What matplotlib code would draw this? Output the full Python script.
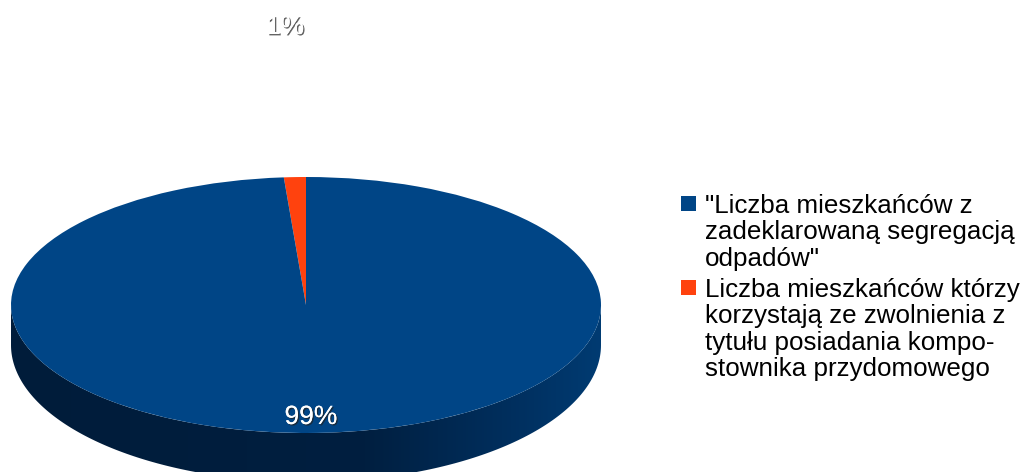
import numpy as np
import matplotlib
matplotlib.use("Agg")
import matplotlib.pyplot as plt
import matplotlib.patheffects as pe
from matplotlib.colors import LinearSegmentedColormap
from matplotlib.patches import Polygon, Rectangle

# Data
labels = ['"Liczba mieszkańców z\nzadeklarowaną segregacją\nodpadów"',
          "Liczba mieszkańców którzy\nkorzystają ze zwolnienia z\ntytułu posiadania kompo-\nstownika przydomowego"]
values = [98.8, 1.2]
colors = ["#004586", "#ff420e"]

W, H = 1027, 472
CX, CY, RX, RY, DEPTH, RY_LOW = 306, 305, 295, 128, 40, 137

plt.rcParams["font.family"] = ["Liberation Sans", "DejaVu Sans"]
fig = plt.figure(figsize=(W / 100, H / 100), dpi=100)
ax = fig.add_axes([0, 0, 1, 1])

# Top face, orange slice sits just left of 12 o'clock
ax.pie(values[::-1], colors=colors[::-1], startangle=90, radius=1,
       wedgeprops={"linewidth": 0, "zorder": 3})
ax.set_aspect("auto")
ax.axis("off")

# Side of the disc with dark gradient, lower rim a bit rounder than the top
t = np.linspace(np.pi, 2 * np.pi, 200)
x = np.cos(t)
y = np.sin(t)
d = DEPTH / RY
low = y * RY_LOW / RY - d
side = np.column_stack([np.r_[x, x[::-1]], np.r_[y, low[::-1]]])
clip = Polygon(side, closed=True, transform=ax.transData, facecolor="none", edgecolor="none")
ax.add_patch(clip)
cmap = LinearSegmentedColormap.from_list("side", [(0, "#001c3a"), (0.6, "#001f40"),
                                                  (0.85, "#002f5e"), (1, "#003b72")])
grad = ax.imshow(np.linspace(0, 1, 256)[None, :], cmap=cmap, aspect="auto", zorder=2,
                 extent=(-1, 1, low.min(), 0.1), origin="lower")
grad.set_clip_path(clip)
ax.set_xlim(-CX / RX, (W - CX) / RX)
ax.set_ylim(-(H - CY) / RY, CY / RY)

# Percent labels
shadow = [pe.withSimplePatchShadow(offset=(1, -1), shadow_rgbFace="#222222", alpha=0.7), pe.Normal()]
fig.text(311 / W, 1 - 417 / H, f"{values[0]:.0f}%", color="white", fontsize=19,
         ha="center", va="center", path_effects=shadow)
fig.text(285 / W, 1 - 27 / H, f"{values[1]:.0f}%", color="white", fontsize=19,
         ha="center", va="center", path_effects=shadow)

# Legend, squares line up with the first row of each entry
for label, color, top, square in zip(labels, colors, [194, 278], [196, 280]):
    fig.patches.append(Rectangle((681 / W, 1 - (square + 15) / H), 15 / W, 15 / H, facecolor=color,
                                 edgecolor="none", transform=fig.transFigure, figure=fig))
    fig.text(705 / W, 1 - top / H, label, color="black", fontsize=18.7, ha="left", va="top",
             linespacing=1.12)

fig.savefig("out.png", dpi=100)
